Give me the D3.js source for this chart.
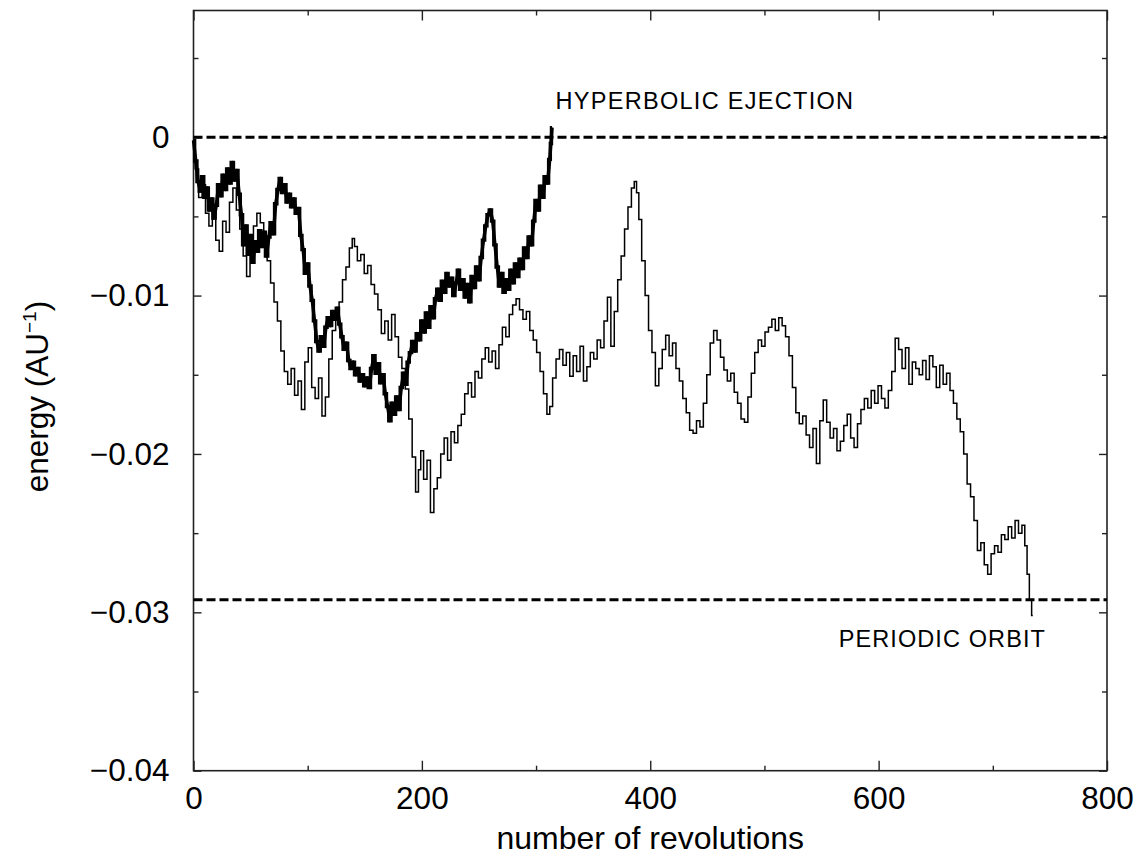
<!DOCTYPE html>
<html>
<head>
<meta charset="utf-8">
<script src="https://cdn.jsdelivr.net/npm/d3@7"></script>
<style>
body{margin:0;background:#fff;}
text{font-family:"Liberation Sans",Arial,Helvetica,sans-serif;fill:#000;}
</style>
</head>
<body>
<div id="chart"></div>
<script>
// energy vs number of revolutions, two orbits
// thick curve: ejected orbit [rev, energy]
var ejected = [
[0,-0.0002],[2,-0.0015],[4,-0.0028],[6,-0.0034],[8,-0.0025],[10,-0.0038],[12,-0.0032],[14,-0.0046],
[16,-0.0039],[18,-0.0051],[20,-0.0043],[22,-0.0030],[24,-0.0037],[26,-0.0024],[28,-0.0033],[30,-0.0020],
[32,-0.0029],[34,-0.0016],[36,-0.0027],[38,-0.0021],[40,-0.0036],[42,-0.0049],[44,-0.0068],[46,-0.0056],
[48,-0.0074],[50,-0.0062],[52,-0.0079],[54,-0.0066],[56,-0.0072],[58,-0.0059],[60,-0.0069],[62,-0.0060],
[64,-0.0075],[66,-0.0063],[68,-0.0054],[70,-0.0061],[72,-0.0042],[74,-0.0033],[76,-0.0026],[78,-0.0035],
[80,-0.0030],[82,-0.0041],[84,-0.0036],[86,-0.0044],[88,-0.0039],[90,-0.0048],[92,-0.0045],[94,-0.0062],
[96,-0.0071],[98,-0.0086],[100,-0.0080],[102,-0.0094],[104,-0.0103],[106,-0.0116],[108,-0.0129],[110,-0.0135],
[112,-0.0126],[114,-0.0132],[116,-0.0120],[118,-0.0114],[120,-0.0119],[122,-0.0110],[124,-0.0115],[126,-0.0108],
[128,-0.0118],[130,-0.0126],[132,-0.0134],[134,-0.0130],[136,-0.0141],[138,-0.0146],[140,-0.0142],[142,-0.0150],
[144,-0.0146],[146,-0.0154],[148,-0.0150],[150,-0.0157],[152,-0.0152],[154,-0.0158],[156,-0.0146],[158,-0.0138],
[160,-0.0149],[162,-0.0143],[164,-0.0155],[166,-0.0150],[168,-0.0162],[170,-0.0170],[172,-0.0179],[174,-0.0168],
[176,-0.0175],[178,-0.0164],[180,-0.0172],[182,-0.0158],[184,-0.0149],[186,-0.0156],[188,-0.0142],[190,-0.0136],
[192,-0.0129],[194,-0.0135],[196,-0.0124],[198,-0.0128],[200,-0.0116],[202,-0.0123],[204,-0.0111],[206,-0.0120],
[208,-0.0107],[210,-0.0114],[212,-0.0102],[214,-0.0096],[216,-0.0103],[218,-0.0091],[220,-0.0098],[222,-0.0086],
[224,-0.0094],[226,-0.0089],[228,-0.0100],[230,-0.0092],[232,-0.0084],[234,-0.0096],[236,-0.0090],[238,-0.0101],
[240,-0.0093],[242,-0.0104],[244,-0.0088],[246,-0.0095],[248,-0.0082],[250,-0.0090],[252,-0.0076],[254,-0.0065],
[256,-0.0056],[258,-0.0049],[260,-0.0046],[262,-0.0053],[264,-0.0068],[266,-0.0082],[268,-0.0094],[270,-0.0086],
[272,-0.0098],[274,-0.0090],[276,-0.0096],[278,-0.0084],[280,-0.0092],[282,-0.0080],[284,-0.0088],[286,-0.0077],
[288,-0.0083],[290,-0.0070],[292,-0.0076],[294,-0.0063],[296,-0.0068],[298,-0.0053],[300,-0.0040],[302,-0.0046],
[304,-0.0031],[306,-0.0038],[308,-0.0025],[310,-0.0029],[312,-0.0014],[313,-0.0004],[314,0.0006]
];

// thin curve: orbit that ends on the periodic orbit
var captured = [
[0,-0.0002],[3,-0.0020],[6,-0.0038],[9,-0.0030],[12,-0.0048],[15,-0.0056],[18,-0.0044],[21,-0.0065],
[24,-0.0072],[27,-0.0053],[30,-0.0060],[33,-0.0041],[36,-0.0032],[39,-0.0046],[42,-0.0058],[45,-0.0075],
[48,-0.0088],[51,-0.0070],[54,-0.0056],[57,-0.0048],[60,-0.0054],[63,-0.0064],[66,-0.0078],[69,-0.0092],
[72,-0.0104],[75,-0.0116],[78,-0.0135],[81,-0.0148],[84,-0.0156],[87,-0.0146],[90,-0.0163],[93,-0.0154],
[96,-0.0172],[99,-0.0142],[102,-0.0133],[105,-0.0158],[108,-0.0165],[111,-0.0152],[114,-0.0176],[117,-0.0164],
[120,-0.0140],[123,-0.0122],[126,-0.0110],[129,-0.0104],[132,-0.0090],[135,-0.0082],[138,-0.0070],[140,-0.0064],
[142,-0.0069],[145,-0.0078],[148,-0.0074],[151,-0.0086],[154,-0.0081],[157,-0.0093],[160,-0.0099],[163,-0.0109],
[166,-0.0124],[169,-0.0116],[172,-0.0128],[175,-0.0112],[178,-0.0126],[181,-0.0139],[184,-0.0146],[187,-0.0159],
[190,-0.0178],[193,-0.0202],[196,-0.0224],[198,-0.0210],[200,-0.0198],[203,-0.0216],[206,-0.0204],[209,-0.0237],
[212,-0.0222],[215,-0.0215],[218,-0.0200],[221,-0.0190],[224,-0.0204],[227,-0.0186],[230,-0.0193],[233,-0.0182],
[236,-0.0175],[239,-0.0162],[242,-0.0155],[245,-0.0164],[248,-0.0148],[251,-0.0152],[254,-0.0140],[257,-0.0133],
[260,-0.0142],[263,-0.0135],[266,-0.0146],[269,-0.0131],[272,-0.0120],[275,-0.0126],[278,-0.0112],[281,-0.0106],
[284,-0.0102],[287,-0.0109],[290,-0.0115],[293,-0.0110],[296,-0.0122],[299,-0.0128],[302,-0.0136],[305,-0.0148],
[308,-0.0162],[311,-0.0175],[313,-0.0170],[316,-0.0152],[319,-0.0140],[322,-0.0134],[325,-0.0144],[328,-0.0136],
[331,-0.0151],[334,-0.0138],[337,-0.0148],[340,-0.0132],[343,-0.0154],[346,-0.0145],[349,-0.0136],[352,-0.0140],
[355,-0.0128],[358,-0.0133],[361,-0.0116],[364,-0.0101],[367,-0.0132],[370,-0.0110],[373,-0.0090],[376,-0.0075],
[379,-0.0058],[382,-0.0044],[385,-0.0032],[387,-0.0028],[389,-0.0035],[391,-0.0052],[394,-0.0078],[397,-0.0100],
[400,-0.0122],[403,-0.0136],[406,-0.0157],[409,-0.0146],[412,-0.0134],[415,-0.0125],[418,-0.0138],[421,-0.0130],
[424,-0.0146],[427,-0.0154],[430,-0.0165],[433,-0.0174],[436,-0.0185],[439,-0.0187],[442,-0.0179],[445,-0.0183],
[448,-0.0168],[451,-0.0150],[454,-0.0130],[457,-0.0122],[460,-0.0128],[463,-0.0139],[466,-0.0147],[469,-0.0154],
[472,-0.0149],[475,-0.0161],[478,-0.0168],[481,-0.0178],[484,-0.0180],[487,-0.0164],[490,-0.0149],[493,-0.0136],
[496,-0.0128],[499,-0.0132],[502,-0.0123],[505,-0.0120],[508,-0.0115],[511,-0.0122],[514,-0.0114],[517,-0.0119],
[520,-0.0126],[523,-0.0138],[526,-0.0158],[529,-0.0174],[532,-0.0181],[535,-0.0176],[538,-0.0188],[541,-0.0196],
[544,-0.0184],[547,-0.0206],[550,-0.0179],[553,-0.0166],[556,-0.0180],[559,-0.0190],[562,-0.0184],[565,-0.0198],
[568,-0.0192],[571,-0.0182],[574,-0.0175],[577,-0.0190],[580,-0.0196],[583,-0.0181],[586,-0.0172],[589,-0.0165],
[592,-0.0171],[595,-0.0160],[598,-0.0168],[601,-0.0157],[604,-0.0165],[607,-0.0171],[610,-0.0160],[613,-0.0148],
[616,-0.0127],[619,-0.0134],[622,-0.0146],[625,-0.0133],[628,-0.0156],[631,-0.0142],[634,-0.0146],[637,-0.0150],
[640,-0.0141],[643,-0.0153],[646,-0.0138],[649,-0.0145],[652,-0.0158],[655,-0.0144],[658,-0.0156],[661,-0.0149],
[664,-0.0160],[667,-0.0168],[670,-0.0178],[673,-0.0186],[676,-0.0200],[679,-0.0219],[682,-0.0227],[685,-0.0242],
[688,-0.0261],[691,-0.0256],[694,-0.0270],[697,-0.0276],[700,-0.0263],[703,-0.0258],[706,-0.0262],[709,-0.0251],
[712,-0.0254],[715,-0.0246],[718,-0.0253],[721,-0.0242],[724,-0.0250],[727,-0.0245],[729,-0.0258],[731,-0.0276],
[733,-0.0292],[735,-0.0302]
];

var refLines = [0, -0.0292];
var refLabels = ["HYPERBOLIC EJECTION", "PERIODIC ORBIT"];
var xMajor = [0, 200, 400, 600, 800], xMinor = [100, 300, 500, 700];
var yMajor = [0, -0.01, -0.02, -0.03, -0.04], yMinor = [0.005, -0.005, -0.015, -0.025, -0.035];

var W = 1138, H = 856;
var margin = {top:10.5, right:31, bottom:85.3, left:193.5},
w = W - margin.left - margin.right,
h = H - margin.top - margin.bottom;

var svg = d3.select("#chart").append("svg")
  .attr("width", W).attr("height", H)
  .append("g")
  .attr("transform", `translate(${margin.left},${margin.top})`);

var x = d3.scaleLinear().domain([0, 800]).range([0, w]);
var y = d3.scaleLinear().domain([-0.04, 0.008]).range([h, 0]);
var fmt = function(d){ return d === 0 ? "0" : d3.format(".2f")(d); };

function styleAxis(g){
  g.select(".domain").remove();
  g.selectAll(".tick line").attr("stroke", "#222").attr("stroke-width", 1.4);
  g.selectAll(".tick text").style("font-size", "31.5px").style("font-family", "Liberation Sans, Arial, sans-serif").attr("fill", "#000");
}

// bottom/left with labels, top/right ticks only (all ticks inward)
svg.append("g").attr("transform", `translate(0,${h})`)
  .call(d3.axisBottom(x).tickValues(xMajor).tickSize(-10).tickPadding(16).tickFormat(d3.format("d"))).call(styleAxis);
svg.append("g").attr("transform", `translate(0,${h})`)
  .call(d3.axisBottom(x).tickValues(xMinor).tickSize(-5).tickFormat("")).call(styleAxis);
svg.append("g")
  .call(d3.axisTop(x).tickValues(xMajor).tickSize(-10).tickFormat("")).call(styleAxis);
svg.append("g")
  .call(d3.axisTop(x).tickValues(xMinor).tickSize(-5).tickFormat("")).call(styleAxis);
svg.append("g")
  .call(d3.axisLeft(y).tickValues(yMajor).tickSize(-8).tickPadding(24).tickFormat(fmt)).call(styleAxis);
svg.append("g")
  .call(d3.axisLeft(y).tickValues(yMinor).tickSize(-5).tickFormat("")).call(styleAxis);
svg.append("g").attr("transform", `translate(${w},0)`)
  .call(d3.axisRight(y).tickValues(yMajor).tickSize(-8).tickFormat("")).call(styleAxis);
svg.append("g").attr("transform", `translate(${w},0)`)
  .call(d3.axisRight(y).tickValues(yMinor).tickSize(-5).tickFormat("")).call(styleAxis);

svg.append("rect").attr("width", w).attr("height", h)
  .attr("fill", "none").attr("stroke", "#222").attr("stroke-width", 1.6);

// dashed reference lines
svg.selectAll(".ref").data(refLines).enter().append("line")
  .attr("x1", 0).attr("x2", w)
  .attr("y1", d => y(d)).attr("y2", d => y(d))
  .attr("stroke", "#000").attr("stroke-width", 3)
  .attr("stroke-dasharray", "9,4");

var line = d3.line().x(d => x(d[0])).y(d => y(d[1]));
var stepLine = d3.line().curve(d3.curveStep).x(d => x(d[0])).y(d => y(d[1]));

svg.append("path").datum(captured)
  .attr("d", stepLine).attr("fill", "none")
  .attr("stroke", "#000").attr("stroke-width", 1.5);
svg.append("path").datum(ejected)
  .attr("d", stepLine).attr("fill", "none")
  .attr("stroke", "#000").attr("stroke-width", 3.4);
svg.append("path").datum(ejected)
  .attr("d", line).attr("fill", "none")
  .attr("stroke", "#000").attr("stroke-width", 3.4).attr("stroke-linejoin", "round");

// annotations
svg.append("text").attr("x", x(317)).attr("y", y(0.0018))
  .style("font-size", "23.5px").style("letter-spacing", "1.3px").text(refLabels[0]);
svg.append("text").attr("x", x(565)).attr("y", y(-0.0322))
  .style("font-size", "23.5px").style("letter-spacing", "1.1px").text(refLabels[1]);

// axis titles
svg.append("text").attr("x", w/2).attr("y", h + 78)
  .attr("text-anchor", "middle").style("font-size", "32px")
  .text("number of revolutions");
var yt = svg.append("text")
  .attr("transform", `translate(${48 - margin.left},${h/2 + 6}) rotate(-90)`)
  .attr("text-anchor", "middle").style("font-size", "31.5px");
yt.append("tspan").text("energy (AU");
yt.append("tspan").attr("dy", -12).style("font-size", "19px").text("\u22121");
yt.append("tspan").attr("dy", 12).text(")");
</script>
</body>
</html>
